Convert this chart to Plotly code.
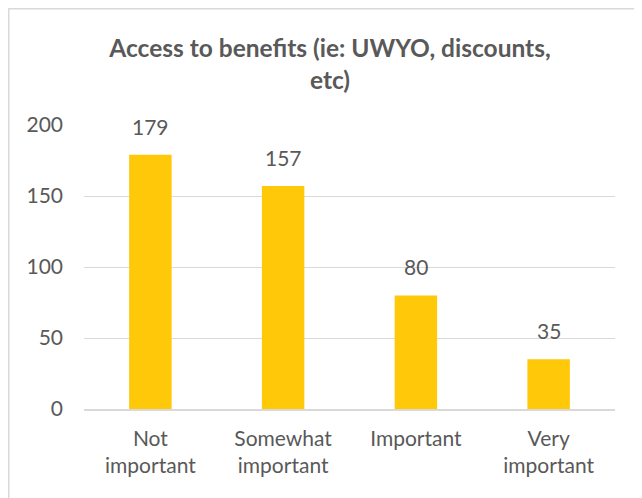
import plotly.graph_objects as go

categories = ["Not<br>important", "Somewhat<br>important", "Important", "Very<br>important"]
values = [179, 157, 80, 35]
y_ticks = [0, 50, 100, 150, 200]
title_text = "Access to benefits (ie: UWYO, discounts,<br>etc)"

FONT = "Lato, Calibri, Carlito, sans-serif"
GREY = "#595959"

# page has an 8px body margin: figure is drawn at (8, 8)
W, H = 634, 490
L, T = 76, 117
PW, PH = 531, 284
R, B = W - L - PW, H - T - PH

fig = go.Figure()
fig.add_trace(go.Bar(
    x=categories, y=values,
    marker=dict(color="#FFC90A", line=dict(width=0)),
    width=0.32,
    hoverinfo="skip",
))

for c, v in zip(categories, values):
    fig.add_annotation(x=c, y=v, text=str(v), showarrow=False,
                       yanchor="bottom", yshift=14,
                       font=dict(family=FONT, size=21, color=GREY))

fig.update_layout(
    width=W, height=H,
    paper_bgcolor="white", plot_bgcolor="white",
    margin=dict(l=L, r=R, t=T, b=B),
    showlegend=False,
    title=dict(text=title_text, x=(330 - 8) / W, xanchor="center", y=1 - (57 - 8) / H, yanchor="middle",
               font=dict(family=FONT, size=24.5, color=GREY, weight="bold")),
)
fig.update_yaxes(range=[0, 200], tickvals=y_ticks, showgrid=True, gridcolor="#D9D9D9",
                 gridwidth=1, zeroline=False, showline=False, ticks="",
                 tickfont=dict(family=FONT, size=21, color=GREY), ticklabelstandoff=20)
fig.update_xaxes(showline=True, linecolor="#D9D9D9", linewidth=1.5, ticks="",
                 tickfont=dict(family=FONT, size=21, color=GREY), ticklabelstandoff=10)

fig.add_shape(type="rect", xref="paper", yref="paper",
              x0=(0.75 - L) / PW, x1=(W + 20 - L) / PW,
              y0=(T + PH - H - 20) / PH, y1=(T + PH - 0.75) / PH,
              line=dict(color="#D9D9D9", width=1.5), fillcolor="rgba(0,0,0,0)", layer="below")

fig.write_html("out.html")
